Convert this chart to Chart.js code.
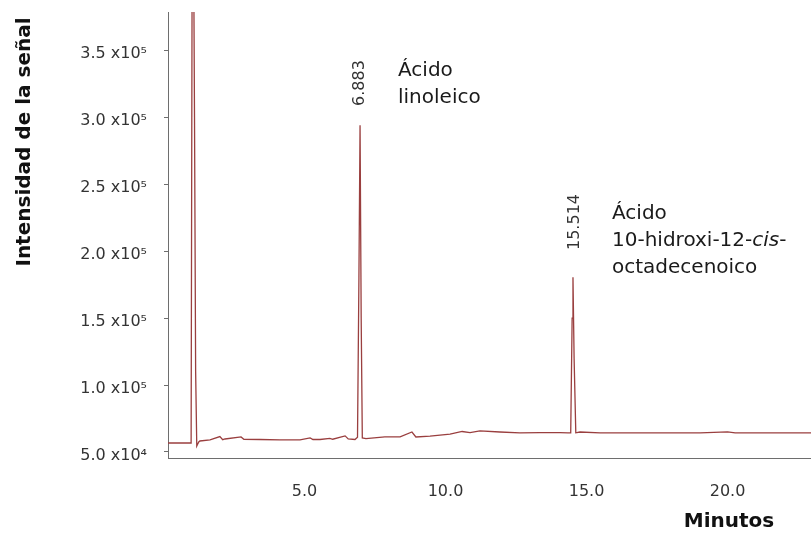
<!DOCTYPE html>
<html>
<head>
<meta charset="utf-8">
<script src="https://cdn.jsdelivr.net/npm/chart.js@4/dist/chart.umd.min.js"></script>
<style>
  html, body { margin: 0; padding: 0; background: #fff; }
  #wrap { width: 811px; height: 536px; }
</style>
</head>
<body>
<div id="wrap"><canvas id="chromChart" width="811" height="536"></canvas></div>
<script>
// retention time (min) and signal
const times = [
  0.16, 0.98, 1.02, 1.06, 1.10, 1.14, 1.18, 1.25, 1.29, 1.65, 2.00, 2.10, 2.18,
  2.75, 2.85, 3.42, 4.13, 4.84, 5.20, 5.30, 5.55, 5.90, 6.00, 6.44, 6.55, 6.79,
  6.88, 6.93, 6.97, 7.01, 7.05, 7.18, 7.85, 8.39, 8.81, 8.95, 9.45, 10.16,
  10.59, 10.87, 11.22, 11.93, 12.64, 13.35, 14.06, 14.34, 14.44, 14.49, 14.52,
  14.56, 14.62, 14.77, 15.48, 17.25, 19.03, 20.00, 20.27, 22.96
];
const intensity = [
  56700, 56700, 460000, 460000, 300000, 110000, 54500, 57500, 58200, 59000, 61500, 59200, 59700,
  61200, 59500, 59300, 59000, 59000, 60500, 59300, 59300, 60200, 59500, 62000, 59800, 59300,
  61000, 180000, 294000, 150000, 60500, 60000, 61200, 61200, 64900, 61200, 61900, 63400,
  65300, 64500, 65700, 64900, 64200, 64500, 64500, 64200, 64300, 150000, 180500,
  120000, 64300, 64900, 64200, 64200, 64200, 65000, 64200, 64200
];

const xTicks = [5, 10, 15, 20];
const yTicks = [50000, 100000, 150000, 200000, 250000, 300000, 350000];
const yTickLabels = ['5.0 x10⁴', '1.0 x10⁵', '1.5 x10⁵', '2.0 x10⁵', '2.5 x10⁵', '3.0 x10⁵', '3.5 x10⁵'];

const yTitle = 'Intensidad de la señal';
const xTitle = 'Minutos';
const peakTimes = ['6.883', '15.514'];

const FONT = '"DejaVu Sans", sans-serif';
const AXIS = '#6e6e6e';

// axis titles and peak annotations
const textPlugin = {
  id: 'texts',
  afterDraw(chart) {
    const ctx = chart.ctx;
    ctx.save();
    ctx.fillStyle = '#111';
    ctx.font = 'bold 20px ' + FONT;
    ctx.textAlign = 'center';
    ctx.textBaseline = 'middle';
    ctx.save();
    ctx.translate(25, 142);
    ctx.rotate(-Math.PI / 2);
    ctx.fillText(yTitle, 0, 0);
    ctx.restore();

    ctx.textBaseline = 'alphabetic';
    ctx.fillText(xTitle, 729, 527);

    // rotated retention times
    ctx.fillStyle = '#333';
    ctx.font = '16px ' + FONT;
    ctx.textBaseline = 'middle';
    [[360, 83], [575, 222]].forEach(([px, py], i) => {
      ctx.save();
      ctx.translate(px, py);
      ctx.rotate(-Math.PI / 2);
      ctx.fillText(peakTimes[i], 0, 0);
      ctx.restore();
    });

    // compound names
    ctx.fillStyle = '#1a1a1a';
    ctx.textAlign = 'left';
    ctx.textBaseline = 'alphabetic';
    ctx.font = '20px ' + FONT;
    ctx.fillText('Ácido', 398, 76);
    ctx.fillText('linoleico', 398, 103);

    ctx.fillText('Ácido', 612, 219);
    let x = 612;
    const parts = [['10-hidroxi-12-', ''], ['cis', 'italic '], ['-', '']];
    parts.forEach(([t, st]) => {
      ctx.font = st + '20px ' + FONT;
      ctx.fillText(t, x, 246);
      x += ctx.measureText(t).width;
    });
    ctx.font = '20px ' + FONT;
    ctx.fillText('octadecenoico', 612, 273);
    ctx.restore();
  }
};

new Chart(document.getElementById('chromChart'), {
  type: 'line',
  data: {
    datasets: [{
      data: times.map((t, i) => ({ x: t, y: intensity[i] })),
      borderColor: '#9a3f3f',
      borderWidth: 1.3,
      pointRadius: 0,
      tension: 0,
      fill: false
    }]
  },
  options: {
    responsive: false,
    animation: false,
    devicePixelRatio: 1,
    layout: { padding: { top: 12, right: 0, left: 0, bottom: 0 } },
    plugins: {
      legend: { display: false },
      tooltip: { enabled: false }
    },
    scales: {
      x: {
        type: 'linear',
        min: 0.16,
        max: 22.96,
        afterBuildTicks: axis => { axis.ticks = xTicks.map(v => ({ value: v })); },
        afterFit: scale => {
          scale.height = 78;
          scale.paddingLeft = 0;
          scale.paddingRight = 0;
        },
        grid: { drawOnChartArea: false, drawTicks: false },
        border: { color: AXIS, width: 1 },
        ticks: {
          padding: 24,
          color: '#333',
          font: { family: FONT, size: 16 },
          callback: v => v.toFixed(1),
          maxRotation: 0
        }
      },
      y: {
        min: 45500,
        max: 378500,
        afterBuildTicks: axis => { axis.ticks = yTicks.map(v => ({ value: v })); },
        afterFit: scale => {
          scale.width = 168;
          scale.paddingTop = 0;
          scale.paddingBottom = 0;
        },
        grid: { drawOnChartArea: false, drawTicks: true, tickLength: 4, color: AXIS },
        border: { color: AXIS, width: 1 },
        ticks: {
          padding: 17,
          labelOffset: 4,
          color: '#333',
          font: { family: FONT, size: 16 },
          callback: v => yTickLabels[yTicks.indexOf(v)]
        }
      }
    }
  },
  plugins: [textPlugin]
});
</script>
</body>
</html>
